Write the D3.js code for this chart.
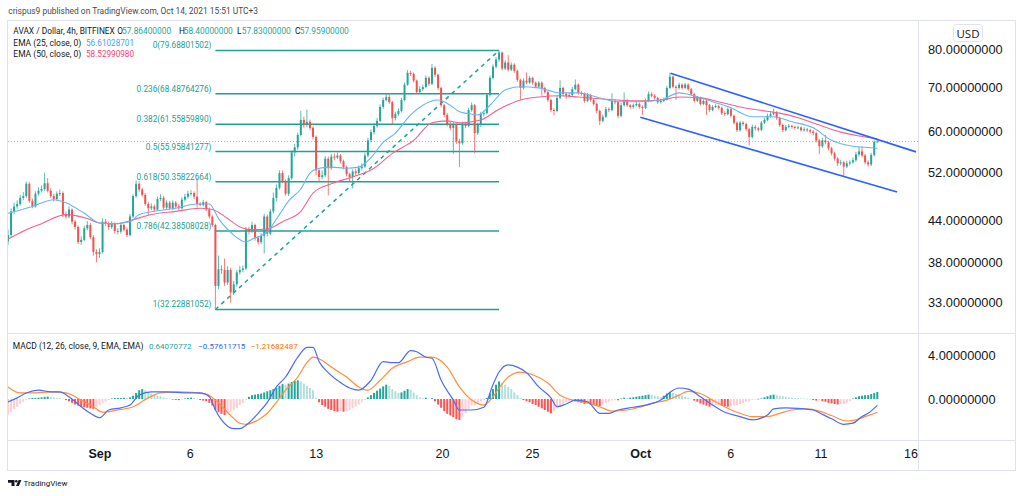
<!DOCTYPE html>
<html>
<head>
<meta charset="utf-8">
<script src="https://cdn.jsdelivr.net/npm/d3@7"></script>
<style>
  body { margin: 0; background: #fff; }
  svg { display: block; font-family: "Open Sans", "Noto Sans", sans-serif; }
  .small { font-family: Roboto, "Liberation Sans", sans-serif; }
</style>
</head>
<body>
<svg id="chart" width="1024" height="496"></svg>
<script>
// 4h candles, AVAX / Dollar (Bitfinex)
const firstOpen = 40.9;
const closes = [41.8,45.4,46.2,46.6,47.6,47.9,50.0,47.1,46.2,48.3,
  48.8,49.1,50.1,48.8,47.9,47.4,48.3,48.4,44.9,44.6,
  45.7,43.8,43.0,40.8,41.1,42.8,43.3,41.5,39.4,39.1,
  39.4,43.8,43.5,43.0,43.5,42.4,42.3,43.3,42.6,41.8,
  44.6,47.9,50.0,49.0,48.1,46.6,45.9,46.2,45.7,47.4,
  47.6,46.0,46.8,45.9,46.8,46.2,45.9,47.3,47.8,48.3,
  48.4,47.8,46.6,46.5,46.9,45.7,44.6,43.3,35.0,37.1,
  37.0,35.4,37.0,34.2,35.2,36.7,37.0,37.2,42.6,42.4,
  43.3,41.4,40.8,41.7,44.6,42.0,45.4,47.6,49.3,51.9,
  50.5,48.3,51.0,55.8,56.8,59.3,62.5,61.4,62.1,60.8,
  58.9,52.4,51.2,51.5,54.6,52.8,55.0,54.8,55.2,54.1,
  53.0,51.7,51.2,52.2,51.9,52.8,53.1,55.2,58.2,59.9,
  61.2,62.3,65.4,67.0,67.7,66.5,62.9,63.8,64.5,67.0,
  70.7,73.7,73.4,71.7,68.9,69.6,70.1,72.4,70.9,75.0,
  73.2,69.9,65.8,63.6,61.6,60.8,61.4,58.0,57.6,61.6,
  61.2,64.7,65.8,59.7,61.4,63.8,64.0,68.2,72.4,75.3,
  77.2,79.1,74.8,76.4,74.5,75.8,74.2,71.9,69.9,71.7,
  71.2,72.4,71.2,70.2,71.2,69.9,68.9,67.0,64.7,64.5,
  67.5,69.9,68.4,68.0,68.2,69.6,70.7,68.7,68.5,66.8,
  68.2,67.0,66.1,64.5,62.3,63.2,64.9,64.7,66.8,66.5,
  63.4,65.8,67.0,65.8,65.4,65.8,66.1,65.4,65.2,66.8,
  68.4,68.0,67.5,66.5,66.8,67.1,69.9,72.7,70.2,69.9,
  70.7,69.9,70.7,69.6,68.4,66.8,67.5,66.1,66.8,65.8,
  64.7,65.4,65.6,65.2,64.0,63.8,64.9,63.4,61.9,60.3,
  61.9,61.6,60.5,58.9,61.0,60.7,60.4,61.9,62.5,63.4,
  63.8,64.2,62.9,61.4,60.3,61.0,61.2,61.0,60.8,60.9,
  60.3,60.5,60.3,60.0,59.7,58.2,57.0,58.2,57.8,56.6,
  55.6,54.6,53.7,53.9,53.1,53.7,53.9,54.3,55.4,56.0,
  55.2,53.9,53.5,55.3,57.864,57.959];
const highs = [42.6,45.9,46.8,47.2,48.1,48.6,50.4,50.3,47.5,48.7,
  49.4,49.7,52.0,51.0,49.2,48.3,48.7,49.0,48.7,45.4,
  46.2,45.9,44.1,43.2,41.6,43.2,43.9,43.6,41.8,39.8,
  39.9,44.3,44.2,43.8,43.9,43.7,42.8,43.7,43.5,42.9,
  45.0,48.2,50.6,50.4,49.3,48.4,46.9,46.7,46.5,47.8,
  48.2,47.9,47.2,47.1,47.2,47.1,46.6,47.7,48.3,48.8,
  48.9,48.7,51.0,46.9,47.3,47.1,46.0,44.8,43.5,38.9,
  37.6,38.5,37.5,37.3,35.6,37.0,37.5,37.6,43.0,43.0,
  43.8,43.5,41.7,42.1,45.0,44.9,45.8,48.5,49.9,52.4,
  52.4,50.8,51.5,56.2,57.5,59.8,64.5,63.2,64.8,62.6,
  61.2,59.2,52.8,52.4,55.1,55.0,55.5,55.6,55.8,55.5,
  54.4,53.3,52.0,52.6,52.7,53.3,53.7,55.7,58.7,60.5,
  61.8,62.9,66.0,67.6,68.7,68.3,66.8,64.3,65.1,67.5,
  71.2,74.4,74.2,73.8,72.0,70.3,70.7,73.0,72.8,76.0,
  75.4,73.5,70.2,66.1,64.0,62.1,62.0,61.7,58.5,62.1,
  62.1,65.2,66.4,66.1,61.9,64.3,64.6,68.7,73.0,75.9,
  77.9,79.688,79.4,77.0,78.4,76.4,76.2,74.5,72.2,72.3,
  73.8,72.9,72.7,71.5,71.6,71.5,70.2,69.2,67.3,65.2,
  68.0,71.8,70.2,68.8,68.7,70.1,72.0,71.0,69.1,68.8,
  68.7,68.5,67.3,66.4,64.8,63.7,65.4,65.3,68.6,67.2,
  66.8,66.3,68.8,67.3,66.1,66.2,66.6,66.4,65.8,67.3,
  69.0,68.8,68.4,67.8,67.3,67.6,70.4,73.7,73.0,70.6,
  71.2,71.0,71.1,71.0,69.9,68.7,67.9,67.8,67.2,67.1,
  66.1,65.8,66.0,65.9,65.5,64.4,65.3,65.2,63.7,62.2,
  62.3,62.2,61.9,60.8,61.5,61.4,61.0,62.3,63.0,63.9,
  64.3,65.0,64.5,63.2,61.7,61.4,61.6,61.5,61.3,61.3,
  61.1,60.9,60.8,60.6,60.3,60.0,58.5,58.7,59.3,58.1,
  56.9,55.9,54.9,54.4,54.2,54.2,54.3,54.8,55.9,57.0,
  57.0,55.5,54.3,55.7,58.2,58.40];
const lows = [40.4,41.5,45.0,45.8,46.3,47.2,47.6,46.8,45.9,46.0,
  48.0,48.5,48.8,48.5,47.6,47.0,47.1,47.9,44.5,44.2,
  44.3,43.4,42.6,40.5,40.4,40.9,42.5,41.2,38.9,38.0,
  38.6,39.2,43.1,42.6,42.7,42.0,41.9,42.0,42.3,41.5,
  41.6,44.4,47.6,48.6,47.8,46.3,44.8,45.6,45.3,45.5,
  47.1,45.7,45.7,45.6,45.6,45.9,45.6,45.7,47.0,47.5,
  48.0,47.4,46.0,46.2,46.2,45.4,44.3,43.0,32.229,34.6,
  36.5,35.0,35.1,33.0,33.9,34.9,36.4,36.7,37.0,41.9,
  42.1,41.0,40.4,40.5,39.2,41.6,41.8,45.1,47.0,49.0,
  50.1,48.0,47.9,50.7,55.0,56.3,59.0,60.8,61.0,60.3,
  58.4,51.5,50.3,50.8,51.2,48.0,52.5,54.3,54.5,53.7,
  52.6,51.3,50.4,49.2,51.4,51.6,52.4,52.8,54.9,57.8,
  59.4,60.8,62.0,65.0,66.7,66.1,61.5,62.4,63.4,64.2,
  66.7,70.4,72.8,71.2,68.4,68.5,69.2,69.8,70.4,70.6,
  72.6,69.4,65.3,63.1,61.1,60.3,55.5,57.5,53.0,57.3,
  60.7,60.9,64.3,55.6,59.3,61.0,63.3,63.7,67.8,72.0,
  74.9,76.6,74.3,74.4,74.0,74.1,73.7,71.4,67.0,69.5,
  70.8,70.9,70.7,69.8,69.9,68.0,68.5,66.6,64.2,63.5,
  64.2,67.2,67.9,67.3,67.6,67.9,69.3,68.3,68.0,66.4,
  66.5,66.6,65.7,64.0,61.4,62.0,62.9,64.2,64.4,66.0,
  62.9,63.1,65.5,65.4,65.0,65.0,65.5,65.0,63.6,64.9,
  66.5,67.6,67.1,66.1,66.2,66.5,66.9,69.6,69.8,67.0,
  69.5,69.5,69.6,69.2,68.0,66.4,66.5,65.7,65.8,63.6,
  64.3,64.4,65.1,64.8,63.6,63.4,63.5,63.0,61.5,59.9,
  60.0,61.2,60.1,57.2,58.6,60.2,60.0,60.1,61.6,62.2,
  63.0,63.5,62.5,61.0,59.9,60.0,60.7,60.6,60.4,60.5,
  60.0,60.0,59.9,59.6,59.2,57.8,55.5,56.7,57.4,56.2,
  55.2,54.2,53.2,53.3,51.4,52.8,53.3,53.6,54.0,55.0,
  54.8,53.5,53.1,53.2,55.0,57.83];

// EMA 25 / EMA 50, read at points (candle index, value)
const ema25Idx = [0,8,15,19,25,30,34,40,43,49,55,62,66,69,74,78,80,85,89,92,96,99,102,106,111,115,119,123,127,132,136,141,145,148,150,154,158,163,168,174,181,187,194,200,207,214,220,224,231,237,244,251,257,264,270,277,281,285];
const ema25 = [45.1,46.2,47.3,46.8,45.1,43.6,43.5,43.8,44.9,45.5,45.9,46.6,46.6,44.3,41.8,40.8,41.2,42.3,44.9,47.1,49.1,51.9,52.8,53.0,52.8,53.0,54.8,57.8,59.7,63.6,65.8,67.0,65.8,64.3,64.0,63.6,65.8,69.4,70.2,69.9,68.7,68.7,67.5,66.6,66.6,67.0,68.7,68.2,66.6,65.2,63.2,63.2,62.1,60.8,58.2,57.0,56.8,56.61];
const ema50Idx = [0,6,11,19,26,30,36,41,47,55,63,67,72,76,80,85,90,96,100,106,113,120,126,133,139,144,148,155,161,168,174,181,187,194,200,207,214,220,227,233,240,246,253,259,266,273,279,285];
const ema50 = [41.2,42.6,43.5,44.9,44.3,43.6,43.5,44.1,44.9,45.4,45.9,45.7,44.3,43.0,42.6,42.7,43.8,45.4,48.4,50.0,51.2,52.8,55.6,58.2,61.9,62.3,61.9,62.5,64.9,67.0,67.7,68.0,67.7,67.3,67.0,66.8,67.0,67.7,67.5,66.6,65.4,64.7,64.0,63.0,61.4,59.9,59.1,58.53];

// MACD (12, 26, 9)
const macdIdx = [0,3,6,10,14,17,20,24,27,30,33,37,40,43,47,52,59,63,66,68,70,74,76,78,82,85,88,91,95,98,100,102,105,109,112,115,119,123,126,128,132,134,137,139,142,146,148,152,156,159,161,164,167,170,174,178,180,183,186,190,194,197,200,205,209,214,217,220,223,227,231,235,240,244,249,251,255,259,264,267,270,274,277,280,282,285];
const macdLine = [-0.27,0.1,0.55,0.8,0.65,0.65,0.2,-0.7,-1.3,-1.7,-1.0,-0.8,-0.55,0.35,0.65,0.65,0.55,0.55,0.2,-1.0,-1.9,-2.7,-2.7,-2.4,-1.3,-0.3,1.1,2.0,3.8,4.7,4.7,3.4,2.4,1.5,1.0,0.8,1.7,3.4,3.3,3.3,4.4,4.3,3.8,3.7,1.7,-0.1,-1.0,-1.0,-0.75,1.3,2.45,3.1,2.9,2.4,1.1,0.1,-0.7,-0.45,-0.1,-0.25,-1.3,-1.3,-1.0,-0.75,-0.55,-0.1,0.6,1.0,0.9,0.2,-0.55,-1.2,-1.6,-1.9,-1.45,-0.9,-0.8,-0.85,-1.0,-1.4,-1.8,-2.3,-2.2,-1.6,-1.3,-0.576];
const sigIdx = [0,4,8,14,19,24,28,31,36,41,46,50,56,65,69,73,76,78,82,85,88,91,95,98,100,103,106,111,115,118,122,126,131,135,139,144,148,152,156,159,161,164,168,172,177,181,185,190,194,198,203,207,211,216,220,223,227,231,235,240,244,249,253,257,262,266,270,275,278,281,285];
const signalLine = [1.1,0.55,0.55,0.65,0.55,-0.1,-0.7,-1.2,-1.0,-0.7,0.1,0.55,0.65,0.45,-0.35,-1.5,-2.2,-2.3,-1.9,-1.3,-0.3,0.8,2.0,3.3,3.8,3.5,2.9,2.0,1.1,0.8,1.7,2.8,3.4,3.8,3.8,2.9,1.1,-0.1,-0.55,0.2,1.0,2.0,2.45,2.2,1.45,0.35,-0.1,-0.35,-0.7,-1.1,-1.0,-0.75,-0.4,-0.1,0.35,0.7,0.5,-0.1,-0.7,-1.3,-1.6,-1.6,-1.3,-1.0,-0.9,-1.1,-1.5,-2.0,-1.9,-1.6,-1.217];
const hist = [-1.4,-1.2,-0.95,-0.7,-0.45,-0.25,-0.1,0.05,0.1,0.1,
  0.12,0.15,0.2,0.22,0.18,0.15,0.1,0.08,0.04,-0.1,
  -0.2,-0.35,-0.5,-0.6,-0.7,-0.75,-0.8,-0.85,-0.9,-0.75,
  -0.55,-0.4,-0.25,-0.1,0.05,0.08,0.1,0.1,0.12,0.1,
  0.15,0.3,0.55,0.8,0.9,0.8,0.65,0.5,0.4,0.3,
  0.25,0.15,0.1,0.05,-0.05,-0.08,-0.1,-0.05,0.05,0.1,
  0.12,0.08,0.02,-0.1,-0.15,-0.2,-0.35,-0.6,-1.0,-1.2,
  -1.35,-1.45,-1.4,-1.2,-1.0,-0.8,-0.55,-0.35,-0.1,0.2,
  0.35,0.4,0.45,0.5,0.6,0.7,0.8,0.9,1.0,1.2,
  1.35,1.3,1.4,1.55,1.65,1.7,1.6,1.4,1.2,1.0,
  0.8,0.1,-0.3,-0.55,-0.7,-0.9,-1.0,-1.1,-1.15,-1.1,
  -1.15,-1.1,-1.0,-0.85,-0.7,-0.5,-0.3,-0.1,0.15,0.35,
  0.55,0.75,0.95,1.15,1.3,1.2,0.9,0.7,0.55,0.6,
  0.75,0.9,0.85,0.6,0.35,0.15,0.1,0.12,0.05,0.08,
  -0.2,-0.5,-0.8,-1.1,-1.35,-1.5,-1.65,-1.85,-1.9,-1.6,
  -1.3,-0.9,-0.6,-0.6,-0.4,-0.25,-0.1,0.1,0.5,0.9,
  1.3,1.6,1.45,1.3,1.1,0.9,0.6,0.35,0.1,-0.1,
  -0.2,-0.3,-0.45,-0.55,-0.7,-0.85,-1.0,-1.15,-1.3,-1.1,
  -0.85,-0.6,-0.45,-0.3,-0.2,-0.15,-0.2,-0.3,-0.35,-0.45,
  -0.42,-0.5,-0.55,-0.6,-0.65,-0.5,-0.35,-0.25,-0.15,-0.1,
  -0.12,0.05,0.12,0.1,0.12,0.15,0.2,0.25,0.3,0.35,
  0.4,0.38,0.3,0.25,0.2,0.3,0.5,0.65,0.55,0.45,
  0.4,0.3,0.2,0.12,0.03,-0.15,-0.25,-0.4,-0.5,-0.6,
  -0.7,-0.65,-0.6,-0.55,-0.6,-0.65,-0.7,-0.65,-0.6,-0.55,
  -0.45,-0.35,-0.25,-0.2,-0.1,-0.05,0.02,0.05,0.15,0.25,
  0.35,0.4,0.35,0.3,0.25,0.2,0.15,0.12,0.1,0.08,
  0.05,0.04,0.03,0.02,-0.1,-0.15,-0.12,-0.2,-0.25,-0.35,
  -0.4,-0.45,-0.5,-0.5,-0.45,-0.35,-0.2,0.05,0.15,0.25,
  0.3,0.35,0.35,0.45,0.55,0.64];

// drawings
const fibHigh = 79.68801502, fibLow = 32.22881052;
const fibRatios = [0, 0.236, 0.382, 0.5, 0.618, 0.786, 1];
const fibFrom = 68, fibTo = 161;             // candle indices of the swing
const channelUpper = [[217.2, 73.6], [297.7, 55.9]];
const channelLower = [[207.3, 63.1], [291.5, 48.6]];

const priceTicks = [33, 38, 44, 52, 60, 70, 80];
const macdTicks = [0, 4];
const dateTicks = ["2021-09-01","2021-09-06","2021-09-13","2021-09-20","2021-09-25",
  "2021-10-01","2021-10-06","2021-10-11","2021-10-16"];

const lastPrice = 57.959;

// ---------------------------------------------------------------
const svg = d3.select("#chart");
const up = "#26a69a", down = "#ef5350", border = "#e0e3eb", txt = "#131722";

const x = d3.scaleLinear().domain([0, closes.length - 1]).range([8, 877.3]);
const xTime = d3.scaleTime()
  .domain([new Date(2021, 8, 1), new Date(2021, 9, 16)])
  .range([99.5, 910.5]);
const y = d3.scaleLog().domain([80, 33]).range([49.3, 302.7]);
const m = d3.scaleLinear().domain([0, 4]).range([399, 355]);

const candles = closes.map((c, i) => {
  const o = i === 0 ? firstOpen : closes[i - 1];
  return { i, o, c, h: Math.max(highs[i], o, c), l: Math.min(lows[i], o, c) };
});

// shrink/grow a text so it spans the same width as in the picture
const fit = (t, w) => {
  const len = t.node().getComputedTextLength();
  if (len > 0) t.attr("font-size", +t.attr("font-size") * w / len);
  return +t.attr("font-size");
};

const defs = svg.append("defs");
defs.append("clipPath").attr("id", "clipP")
  .append("rect").attr("x", 8).attr("y", 21).attr("width", 910).attr("height", 312);
defs.append("clipPath").attr("id", "clipM")
  .append("rect").attr("x", 8).attr("y", 334).attr("width", 910).attr("height", 106);

// frame
svg.append("rect").attr("x", 7.5).attr("y", 20.5).attr("width", 1008).attr("height", 450)
  .attr("fill", "none").attr("stroke", border);
svg.append("line").attr("x1", 918.5).attr("x2", 918.5).attr("y1", 20.5).attr("y2", 470.5).attr("stroke", border);
svg.append("line").attr("x1", 7.5).attr("x2", 1015.5).attr("y1", 333.5).attr("y2", 333.5).attr("stroke", border);
svg.append("line").attr("x1", 7.5).attr("x2", 1015.5).attr("y1", 440.5).attr("y2", 440.5).attr("stroke", border);

// ---- price pane
const gp = svg.append("g").attr("clip-path", "url(#clipP)");

// last price dotted line
gp.append("line").attr("x1", 8).attr("x2", 918)
  .attr("y1", y(lastPrice)).attr("y2", y(lastPrice))
  .attr("stroke", "#80cbc4").attr("stroke-dasharray", "1,2");

// fib retracement
const fibLevels = fibRatios.map(r => ({ r, v: fibHigh - r * (fibHigh - fibLow) }));
gp.selectAll(".fib").data(fibLevels).join("line")
  .attr("x1", x(fibFrom)).attr("x2", x(fibTo))
  .attr("y1", d => y(d.v)).attr("y2", d => y(d.v))
  .attr("stroke", "#22a094").attr("stroke-width", 1.5);
gp.append("line")
  .attr("x1", x(fibFrom)).attr("y1", y(fibLow))
  .attr("x2", x(fibTo)).attr("y2", y(fibHigh))
  .attr("stroke", "#22a094").attr("stroke-width", 1.5).attr("stroke-dasharray", "4,4");
const fibText = svg.selectAll(".fibLabel").data(fibLevels).join("text")
  .attr("class", "small")
  .attr("x", x(fibFrom) - 4).attr("y", d => y(d.v) - 2)
  .attr("text-anchor", "end").attr("font-size", 8.4).attr("fill", "#22a094")
  .text(d => `${d.r}(${d.v.toFixed(8)})`);
const fibSize = fit(fibText.filter((d, i) => i === 1), 74.7);
fibText.attr("font-size", fibSize);

// candles
const cg = gp.append("g");
cg.selectAll(".wick").data(candles).join("line")
  .attr("x1", d => x(d.i)).attr("x2", d => x(d.i))
  .attr("y1", d => y(d.h)).attr("y2", d => y(d.l))
  .attr("stroke", d => d.c >= d.o ? up : down).attr("stroke-opacity", 0.75);
cg.selectAll(".body").data(candles).join("rect")
  .attr("x", d => x(d.i) - 1).attr("width", 2)
  .attr("y", d => y(Math.max(d.o, d.c)))
  .attr("height", d => Math.max(1, y(Math.min(d.o, d.c)) - y(Math.max(d.o, d.c))))
  .attr("fill", d => d.c >= d.o ? up : down);

// EMAs
const lineP = d3.line().x(d => x(d[0])).y(d => y(d[1])).curve(d3.curveMonotoneX);
gp.append("path").datum(d3.zip(ema50Idx, ema50)).attr("d", lineP)
  .attr("fill", "none").attr("stroke", "#f06292").attr("stroke-width", 1.1);
gp.append("path").datum(d3.zip(ema25Idx, ema25)).attr("d", lineP)
  .attr("fill", "none").attr("stroke", "#64b5f6").attr("stroke-width", 1.1);

// descending channel
const lineC = d3.line().x(d => x(d[0])).y(d => y(d[1]));
[channelUpper, channelLower].forEach(c =>
  gp.append("path").datum(c).attr("d", lineC)
    .attr("stroke", "#2962ff").attr("stroke-width", 1.6).attr("fill", "none"));

// price axis
const pa = svg.append("g").attr("transform", "translate(928,0)")
  .call(d3.axisRight(y).tickValues(priceTicks).tickFormat(d3.format(".8f")).tickSize(0).tickPadding(0));
pa.select(".domain").remove();
pa.selectAll("text").attr("font-size", 12.8).attr("fill", txt).attr("font-family", null);

svg.append("rect").attr("x", 953.5).attr("y", 24.5).attr("width", 29).attr("height", 17).attr("rx", 3)
  .attr("fill", "#fff").attr("stroke", border);
svg.append("text").attr("x", 968).attr("y", 33.5).attr("text-anchor", "middle")
  .attr("dominant-baseline", "central").attr("font-size", 11.5).attr("fill", txt).text("USD");

// ---- MACD pane
const gm = svg.append("g").attr("clip-path", "url(#clipM)");
gm.selectAll(".hist").data(hist).join("rect")
  .attr("x", (d, i) => x(i) - 1).attr("width", 2)
  .attr("y", d => Math.min(m(0), m(d)))
  .attr("height", d => Math.max(0.6, Math.abs(m(d) - m(0))))
  .attr("fill", (d, i) => {
    const p = i === 0 ? d : hist[i - 1];
    if (d >= 0) return d >= p ? "#26a69a" : "#b2dfdb";
    return d < p ? "#ff5252" : "#ffcdd2";
  });
const lineM = d3.line().x(d => x(d[0])).y(d => m(d[1])).curve(d3.curveMonotoneX);
gm.append("path").datum(d3.zip(sigIdx, signalLine)).attr("d", lineM)
  .attr("fill", "none").attr("stroke", "#ff8f3a").attr("stroke-width", 1.2);
gm.append("path").datum(d3.zip(macdIdx, macdLine)).attr("d", lineM)
  .attr("fill", "none").attr("stroke", "#4a6cf7").attr("stroke-width", 1.2);

const ma = svg.append("g").attr("transform", "translate(928,0)")
  .call(d3.axisRight(m).tickValues(macdTicks).tickFormat(d3.format(".8f")).tickSize(0).tickPadding(0));
ma.select(".domain").remove();
ma.selectAll("text").attr("font-size", 12.8).attr("fill", txt).attr("font-family", null);

// ---- time axis
const parse = d3.timeParse("%Y-%m-%d");
const xa = svg.append("g").attr("transform", "translate(0,449.4)")
  .call(d3.axisBottom(xTime).tickValues(dateTicks.map(parse))
    .tickFormat(d => d.getDate() === 1 ? d3.timeFormat("%b")(d) : d.getDate())
    .tickSize(0).tickPadding(0));
xa.select(".domain").remove();
xa.selectAll("text").attr("font-size", 12.5).attr("fill", txt).attr("font-family", null)
  .attr("font-weight", d => d.getDate() === 1 ? 600 : 400);

// ---- legends
const legend = (xp, yp, s, col, size) => svg.append("text").attr("class", "small")
  .attr("x", xp).attr("y", yp)
  .attr("dominant-baseline", "central").attr("font-size", size || 8.6).attr("fill", col).text(s);

fit(legend(8.3, 11, "crispus9 published on TradingView.com, Oct 14, 2021 15:51 UTC+3", "#4a4a4a", 9), 250);

const lsize = fit(legend(13.3, 30.7, "AVAX / Dollar, 4h, BITFINEX", txt), 101.7);
[["O", "57.86400000", 117.3], ["H", "58.40000000", 179], ["L", "57.83000000", 237], ["C", "57.95900000", 295]]
  .forEach(([k, v, xp]) => {
    legend(xp, 30.7, k, txt, lsize);
    fit(legend(xp + 4.8, 30.7, v, up, lsize), 49);
  });
fit(legend(13.3, 42.7, "EMA (25, close, 0)", txt, lsize), 68);
fit(legend(86, 42.7, "56.61028701", "#42a5f5", lsize), 48);
fit(legend(13.3, 53.7, "EMA (50, close, 0)", txt, lsize), 68);
fit(legend(86, 53.7, "58.52990980", "#f0457a", lsize), 48);

fit(legend(12.7, 346, "MACD (12, 26, close, 9, EMA, EMA)", txt, lsize), 130.6);
fit(legend(149, 346, "0.64070772", up, lsize), 42.5);
fit(legend(198.3, 346, "\u22120.57611715", "#2962ff", lsize), 47);
fit(legend(250.7, 346, "\u22121.21682487", "#ff6d00", lsize), 47);

// ---- TradingView mark
svg.append("path").attr("d", "M8 480h6.5v6h-3v-3.2h-3.5z").attr("fill", txt);
svg.append("circle").attr("cx", 16.3).attr("cy", 481.3).attr("r", 1.3).attr("fill", txt);
svg.append("path").attr("d", "M16 486l2.6-6h2.8l-2.6 6z").attr("fill", txt);
legend(23.5, 483, "TradingView", txt, 8);
</script>
</body>
</html>
